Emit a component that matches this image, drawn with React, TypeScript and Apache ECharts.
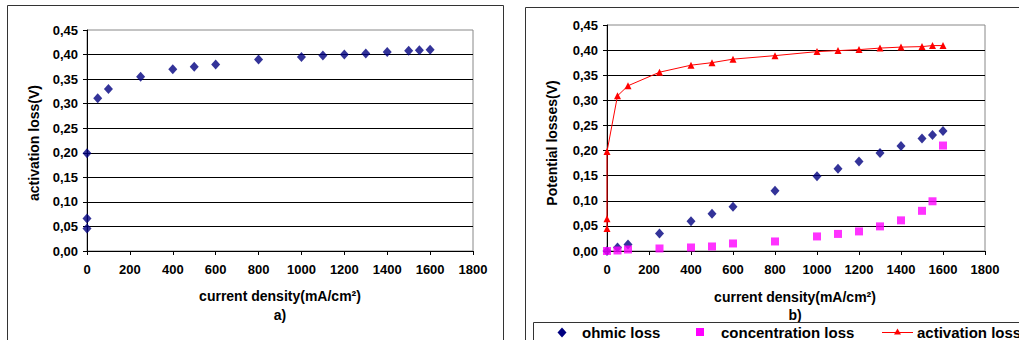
import React, { useEffect, useRef } from "react";
import * as echarts from "echarts";

const activationX = [0, 0, 0, 50, 100, 250, 400, 500, 600, 800, 1000, 1100, 1200, 1300, 1400, 1500, 1550, 1600];
const activationLossA = [0.046, 0.066, 0.199, 0.311, 0.33, 0.355, 0.37, 0.375, 0.38, 0.39, 0.395, 0.398, 0.4, 0.402, 0.405, 0.408, 0.409, 0.41];
const activationLossB = [0.045, 0.064, 0.198, 0.309, 0.329, 0.356, 0.37, 0.375, 0.382, 0.389, 0.397, 0.399, 0.401, 0.404, 0.406, 0.407, 0.409, 0.409];
const lossX = [0, 50, 100, 250, 400, 500, 600, 800, 1000, 1100, 1200, 1300, 1400, 1500, 1550, 1600];
const ohmicLoss = [0.0, 0.007, 0.013, 0.035, 0.059, 0.074, 0.088, 0.12, 0.149, 0.164, 0.178, 0.195, 0.209, 0.224, 0.231, 0.239];
const concentrationLoss = [0.0, 0.001, 0.003, 0.005, 0.007, 0.009, 0.015, 0.019, 0.029, 0.034, 0.039, 0.049, 0.061, 0.08, 0.099, 0.21];

const FONT = "'Liberation Sans', Arial, sans-serif";
const NAVY = "#000080";
const PINK = "#FF00FF";
const RED = "#FF0000";

const pairs = (xs: number[], ys: number[]) => xs.map((x, i) => [x, ys[i]]);

function xAxis(gridIndex: number) {
  return {
    type: "value",
    gridIndex,
    min: 0,
    max: 1800,
    interval: 200,
    axisLine: { show: true, onZero: false, lineStyle: { color: "#000", width: 1 } },
    axisTick: { show: true, length: 4, lineStyle: { color: "#000" } },
    splitLine: { show: false },
    axisLabel: {
      color: "#000",
      fontFamily: FONT,
      fontWeight: "bold",
      fontSize: 13,
      margin: 12,
      formatter: (v: number) => String(v),
    },
  };
}

function yAxis(gridIndex: number) {
  return {
    type: "value",
    gridIndex,
    min: 0,
    max: 0.45,
    interval: 0.05,
    axisLine: { show: true, lineStyle: { color: "#000", width: 1 } },
    axisTick: { show: true, length: 4, lineStyle: { color: "#000" } },
    splitLine: { show: true, showMaxLine: false, showMinLine: false, lineStyle: { color: "#000", width: 1 } },
    axisLabel: {
      color: "#000",
      fontFamily: FONT,
      fontWeight: "bold",
      fontSize: 13,
      margin: 9,
      formatter: (v: number) => v.toFixed(2).replace(".", ","),
    },
  };
}

const textStyle = (size: number) => ({ fill: "#000", font: `bold ${size}px ${FONT}` });

export default function App() {
  const ref = useRef<HTMLDivElement>(null);
  useEffect(() => {
    if (!ref.current) return;
    const chart = echarts.init(ref.current, undefined, { renderer: "svg" });
    chart.setOption({
      animation: false,
      backgroundColor: "#fff",
      grid: [
        { left: 87, top: 30, width: 386, height: 221, show: true, borderColor: "#888", borderWidth: 1, backgroundColor: "transparent" },
        { left: 607, top: 25, width: 378, height: 226, show: true, borderColor: "#888", borderWidth: 1, backgroundColor: "transparent" },
      ],
      xAxis: [xAxis(0), xAxis(1)],
      yAxis: [yAxis(0), yAxis(1)],
      series: [
        {
          type: "scatter",
          name: "activation loss",
          xAxisIndex: 0,
          yAxisIndex: 0,
          data: pairs(activationX, activationLossA),
          symbol: "diamond",
          symbolSize: [9, 10],
          itemStyle: { color: NAVY },
        },
        {
          type: "scatter",
          name: "ohmic loss",
          xAxisIndex: 1,
          yAxisIndex: 1,
          data: pairs(lossX, ohmicLoss),
          symbol: "diamond",
          symbolSize: [9, 10],
          itemStyle: { color: NAVY },
          z: 3,
        },
        {
          type: "scatter",
          name: "concentration loss",
          xAxisIndex: 1,
          yAxisIndex: 1,
          data: pairs(lossX, concentrationLoss),
          symbol: "rect",
          symbolSize: 8,
          itemStyle: { color: PINK },
          z: 4,
        },
        {
          type: "line",
          name: "activation loss",
          xAxisIndex: 1,
          yAxisIndex: 1,
          data: pairs(activationX, activationLossB),
          symbol: "triangle",
          symbolSize: 7,
          showAllSymbol: true,
          lineStyle: { color: RED, width: 1 },
          itemStyle: { color: RED },
          z: 5,
        },
      ],
      graphic: [
        { type: "rect", shape: { x: 7.5, y: 5.5, width: 496, height: 350 }, style: { fill: "none", stroke: "#333", lineWidth: 1 }, z: 0 },
        { type: "rect", shape: { x: 525.5, y: 7.5, width: 520, height: 350 }, style: { fill: "none", stroke: "#333", lineWidth: 1 }, z: 0 },
        { type: "text", x: 280, y: 296, style: { ...textStyle(14), text: "current density(mA/cm²)", textAlign: "center", textVerticalAlign: "middle" } },
        { type: "text", x: 280, y: 315, style: { ...textStyle(14), text: "a)", textAlign: "center", textVerticalAlign: "middle" } },
        { type: "text", x: 34, y: 143, rotation: Math.PI / 2, style: { ...textStyle(14), text: "activation loss(V)", textAlign: "center", textVerticalAlign: "middle" } },
        { type: "text", x: 795, y: 297, style: { ...textStyle(14), text: "current density(mA/cm²)", textAlign: "center", textVerticalAlign: "middle" } },
        { type: "text", x: 795, y: 315, style: { ...textStyle(14), text: "b)", textAlign: "center", textVerticalAlign: "middle" } },
        { type: "text", x: 552, y: 143, rotation: Math.PI / 2, style: { ...textStyle(14), text: "Potential losses(V)", textAlign: "center", textVerticalAlign: "middle" } },
        // legend
        { type: "rect", shape: { x: 533.5, y: 322.5, width: 520, height: 30 }, style: { fill: "#fff", stroke: "#333", lineWidth: 1 }, z: 10 },
        { type: "polygon", shape: { points: [[562, 327.5], [566.5, 332.5], [562, 337.5], [557.5, 332.5]] }, style: { fill: NAVY }, z: 11 },
        { type: "text", x: 582, y: 332, style: { ...textStyle(15), text: "ohmic loss", textAlign: "left", textVerticalAlign: "middle" }, z: 11 },
        { type: "rect", shape: { x: 696, y: 328, width: 8, height: 8 }, style: { fill: PINK }, z: 11 },
        { type: "text", x: 721, y: 332, style: { ...textStyle(15), text: "concentration loss", textAlign: "left", textVerticalAlign: "middle" }, z: 11 },
        { type: "line", shape: { x1: 882, y1: 332.5, x2: 913, y2: 332.5 }, style: { stroke: RED, lineWidth: 1 }, z: 11 },
        { type: "polygon", shape: { points: [[897.5, 328.5], [901, 334.5], [894, 334.5]] }, style: { fill: RED }, z: 11 },
        { type: "text", x: 917, y: 332, style: { ...textStyle(15), text: "activation loss", textAlign: "left", textVerticalAlign: "middle" }, z: 11 },
      ],
    });
    return () => chart.dispose();
  }, []);
  return (
    <div
      ref={ref}
      style={{ position: "fixed", left: 0, top: 0, width: 1019, height: 340, background: "#fff" }}
    />
  );
}
